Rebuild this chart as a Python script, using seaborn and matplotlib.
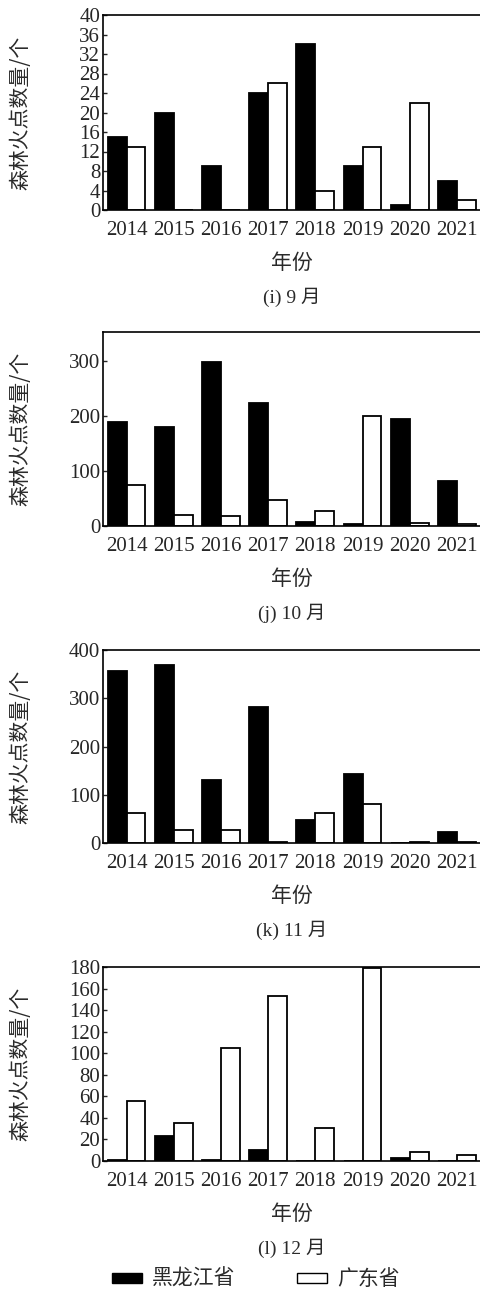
import matplotlib
matplotlib.use("Agg")
import matplotlib.pyplot as plt
import seaborn as sns
import pandas as pd
from matplotlib.patches import Rectangle

years = ["2014", "2015", "2016", "2017", "2018", "2019", "2020", "2021"]
provinces = ["黑龙江省", "广东省"]

# monthly forest fire point counts (Heilongjiang / Guangdong)
sep_hlj = [15, 20, 9, 24, 34, 9, 1, 6]
sep_gd = [13, 0, 0, 26, 4, 13, 22, 2]
oct_hlj = [189, 179, 297, 224, 7, 4, 194, 82]
oct_gd = [74, 20, 18, 48, 27, 200, 6, 4]
nov_hlj = [356, 368, 131, 282, 48, 142, 1, 23]
nov_gd = [62, 26, 26, 3, 62, 80, 2, 3]
dec_hlj = [1, 23, 1, 10, 0, 0, 3, 0]
dec_gd = [56, 35, 105, 153, 31, 179, 8, 6]

panels = [
    ("(i) 9 月", sep_hlj, sep_gd, 40, list(range(0, 41, 4))),
    ("(j) 10 月", oct_hlj, oct_gd, 352, [0, 100, 200, 300]),
    ("(k) 11 月", nov_hlj, nov_gd, 400, [0, 100, 200, 300, 400]),
    ("(l) 12 月", dec_hlj, dec_gd, 180, list(range(0, 181, 20))),
]

sns.set_style("ticks")
serif = ["Liberation Serif", "Noto Sans CJK SC"]
cjk = ["Noto Sans CJK SC", "DejaVu Sans"]
plt.rcParams["font.family"] = serif
txt_col = "#2a2a2a"

W, H = 480, 1293
fig = plt.figure(figsize=(W / 100, H / 100), dpi=100)

# axes boxes in pixels: (top, bottom)
boxes = [(15, 210), (332, 526), (650, 843), (967, 1161)]
left_px, right_px = 103, 480.5
aw = right_px - left_px

for (caption, hlj, gd, ymax, yticks), (top, bot) in zip(panels, boxes):
    ax = fig.add_axes([left_px / W, 1 - bot / H, aw / W, (bot - top) / H])
    df = pd.DataFrame({
        "year": years * 2,
        "count": hlj + gd,
        "prov": [provinces[0]] * 8 + [provinces[1]] * 8,
    })
    sns.barplot(data=df, x="year", y="count", hue="prov", order=years,
                hue_order=provinces, palette=["black", "white"],
                edgecolor="black", linewidth=1.3, width=0.8,
                legend=False, ax=ax)
    ax.set_xlim(-0.5, 7.5)
    ax.set_ylim(0, ymax)
    ax.set_yticks(yticks)
    ax.tick_params(axis="y", direction="in", length=3, width=1, labelsize=15, pad=2)
    ax.tick_params(axis="x", length=0, labelsize=15, pad=8)
    for lab in ax.get_xticklabels() + ax.get_yticklabels():
        lab.set_family(serif)
    ax.spines["right"].set_visible(False)
    for s in ["left", "top", "bottom"]:
        ax.spines[s].set_linewidth(1.2)
        ax.spines[s].set_color("black")
    ax.set_xlabel("")
    ax.set_ylabel("森林火点数量/个", family=cjk, fontsize=15, color=txt_col)
    ax.yaxis.label.set_va("center")
    ax.yaxis.set_label_coords((20 - left_px) / aw, 0.5)
    cx = (left_px + right_px) / 2 / W
    fig.text(cx, 1 - (bot + 53) / H, "年份", family=cjk, fontsize=15,
             ha="center", va="center", color=txt_col)
    fig.text(cx, 1 - (bot + 87) / H, caption, family=serif, fontsize=14,
             ha="center", va="center", color=txt_col)

# legend at the bottom
ly = 1 - 1279 / H
fig.patches.append(Rectangle((112 / W, 1 - 1283 / H), 30 / W, 10 / H,
                             facecolor="black", edgecolor="black", lw=1,
                             transform=fig.transFigure))
fig.text(152 / W, ly, "黑龙江省", family=cjk, fontsize=15, va="center", color=txt_col)
fig.patches.append(Rectangle((297 / W, 1 - 1283 / H), 30 / W, 10 / H,
                             facecolor="white", edgecolor="black", lw=1,
                             transform=fig.transFigure))
fig.text(337 / W, ly, "广东省", family=cjk, fontsize=15, va="center", color=txt_col)

fig.savefig("out.png", dpi=100)
